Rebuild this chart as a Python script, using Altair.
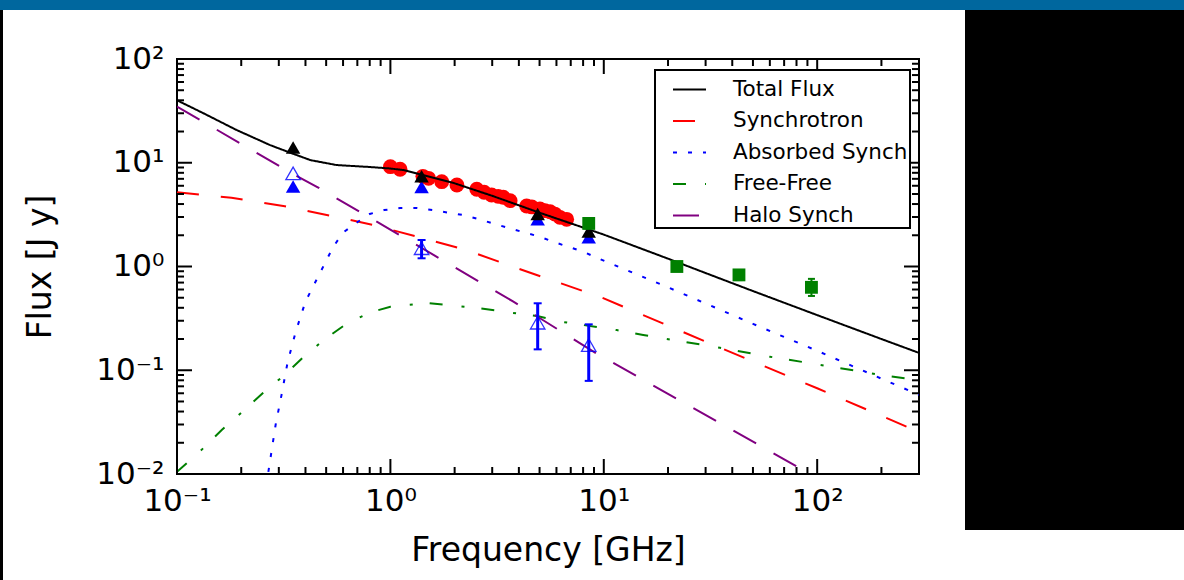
import altair as alt
import pandas as pd

FONT = "DejaVu Sans"

# ---------------- data ----------------
series_names = ["Total Flux", "Synchrotron", "Absorbed Synch", "Free-Free", "Halo Synch"]
series_colors = ["#000000", "#ff0000", "#0000ff", "#008000", "#800080"]
series_dashes = [[1, 0], [22, 22], [4, 11], [13, 19, 3, 17], [26, 20]]

total_freq = [0.1, 0.133, 0.19, 0.273, 0.339, 0.422, 0.56, 0.8, 1.0, 1.15, 1.42, 1.97, 3.0, 5.0, 10, 20, 30, 50, 100, 200, 300]
total_flux = [40, 30, 20.7, 14.8, 12.5, 10.6, 9.5, 9.1, 8.8, 8.5, 7.6, 6.4, 4.8, 3.3, 2.03, 1.19, 0.865, 0.58, 0.34, 0.2, 0.147]

synch_freq = [0.1, 0.18, 0.32, 0.56, 0.84, 1.38, 2.25, 4.0, 9.6, 15.3, 35, 100, 300]
synch_flux = [5.2, 4.6, 3.8, 3.0, 2.5, 1.9, 1.45, 0.95, 0.51, 0.34, 0.165, 0.067, 0.0254]

abs_freq = [0.268, 0.29, 0.31, 0.33, 0.36, 0.40, 0.54, 0.60, 0.69, 0.80, 0.935, 1.11, 1.33, 1.58, 1.87,
            2.2, 2.58, 3.0, 3.64, 4.2, 5.0, 5.8, 6.8, 8.0, 9.4, 20, 30, 50, 100, 200, 300]
abs_flux = [0.0105, 0.03, 0.06, 0.12, 0.235, 0.46, 1.55, 2.12, 2.62, 3.21, 3.5, 3.66, 3.66, 3.5, 3.3,
            3.13, 2.87, 2.61, 2.33, 2.14, 1.94, 1.73, 1.55, 1.39, 1.2, 0.63, 0.44, 0.28, 0.154, 0.083, 0.058]

ff_freq = [0.1, 0.13, 0.162, 0.2, 0.252, 0.315, 0.39, 0.488, 0.62, 0.8, 1.0, 1.5, 2.63, 3.56, 4.87, 6.3,
           11.5, 15.3, 21, 35, 60, 100, 200, 300]
ff_flux = [0.0105, 0.017, 0.0266, 0.039, 0.06, 0.088, 0.133, 0.196, 0.279, 0.36, 0.41, 0.445, 0.395, 0.362,
           0.333, 0.294, 0.244, 0.219, 0.196, 0.165, 0.135, 0.114, 0.09, 0.08]

halo_freq = [0.1, 0.35, 0.45, 1.11, 3.77, 9.2, 19.8, 92.7]
halo_flux = [34.7, 7.8, 5.9, 2.0, 0.458, 0.146, 0.06, 0.01]

red_freq = [1.00, 1.11, 1.42, 1.51, 1.74, 2.05, 2.54, 2.75, 2.98, 3.2, 3.38, 3.64, 4.35, 4.6, 5.02, 5.3, 5.60, 5.9, 6.23, 6.70]
red_flux = [9.16, 8.65, 7.4, 7.08, 6.57, 6.10, 5.55, 5.2, 4.89, 4.75, 4.65, 4.31, 3.83, 3.75, 3.58, 3.45, 3.37, 3.2, 2.98, 2.85]

tri_freq = [0.35, 1.4, 4.9, 8.5]
black_tri_flux = [14.0, 7.4, 3.2, 2.17]
blue_tri_flux = [5.9, 5.85, 2.85, 1.91]

open_freq = [0.35, 1.4, 4.9, 8.5]
open_flux = [7.9, 1.5, 0.287, 0.175]
open_err_freq = [1.4, 4.9, 8.5]
open_lo = [1.2, 0.159, 0.079]
open_hi = [1.8, 0.442, 0.277]

sq_freq = [8.5, 22, 43, 94]
sq_flux = [2.6, 1.0, 0.83, 0.63]
sq_err_freq = [22, 43, 94]
sq_lo = [0.95, 0.74, 0.52]
sq_hi = [1.06, 0.92, 0.76]

x_tick_vals = [0.1, 1, 10, 100]
x_tick_labels = ["10\u207b\u00b9", "10\u2070", "10\u00b9", "10\u00b2"]
y_tick_vals = [0.01, 0.1, 1, 10, 100]
y_tick_labels = ["10\u207b\u00b2", "10\u207b\u00b9", "10\u2070", "10\u00b9", "10\u00b2"]
x_minor = [0.2, 0.3, 0.4, 0.5, 0.6, 0.7, 0.8, 0.9, 2, 3, 4, 5, 6, 7, 8, 9,
           20, 30, 40, 50, 60, 70, 80, 90, 200]
y_minor = [0.02, 0.03, 0.04, 0.05, 0.06, 0.07, 0.08, 0.09, 0.2, 0.3, 0.4, 0.5, 0.6, 0.7, 0.8, 0.9,
           2, 3, 4, 5, 6, 7, 8, 9, 20, 30, 40, 50, 60, 70, 80, 90]

# ---------------- layout ----------------
W, H = 742, 415
PAD_L, PAD_T = 177, 59
BLACK = "#000000"
BLUE = "#0000ff"
GREEN = "#008000"


def label_expr(vals, labels):
    s = "''"
    for v, l in reversed(list(zip(vals, labels))):
        s = f"abs(datum.value - {v}) < {v * 0.01} ? '{l}' : ({s})"
    return s


xscale = alt.Scale(type="log", domain=[0.1, 300])
yscale = alt.Scale(type="log", domain=[0.01, 100])

xaxis = alt.Axis(values=x_tick_vals, labelExpr=label_expr(x_tick_vals, x_tick_labels), ticks=False,
                 domain=False, grid=False, labelFont=FONT, labelFontSize=31, labelColor=BLACK,
                 labelPadding=12, labelFlush=False, labelOverlap=False, titleFont=FONT,
                 titleFontSize=33, titleFontWeight="normal", titleColor=BLACK, titlePadding=18)
yaxis = alt.Axis(values=y_tick_vals, labelExpr=label_expr(y_tick_vals, y_tick_labels), ticks=False,
                 domain=False, grid=False, labelFont=FONT, labelFontSize=31, labelColor=BLACK,
                 labelPadding=13, labelFlush=False, labelOverlap=False, titleFont=FONT,
                 titleFontSize=33, titleFontWeight="normal", titleColor=BLACK, titlePadding=38)


def X(field="f"):
    return alt.X(f"{field}:Q", scale=xscale, axis=xaxis, title="Frequency [GHz]")


def Y(field="v"):
    return alt.Y(f"{field}:Q", scale=yscale, axis=yaxis, title="Flux [J y]")


rows = []
for name, fs, vs in [("Total Flux", total_freq, total_flux), ("Synchrotron", synch_freq, synch_flux),
                     ("Absorbed Synch", abs_freq, abs_flux), ("Free-Free", ff_freq, ff_flux),
                     ("Halo Synch", halo_freq, halo_flux)]:
    for f, v in zip(fs, vs):
        rows.append({"series": name, "f": f, "v": v})
curve_df = pd.DataFrame(rows)

leg = alt.Legend(title=None, orient="none", legendX=478, legendY=11, strokeColor=BLACK, fillColor="white",
                 padding=2, symbolType="stroke", symbolSize=1089, symbolStrokeWidth=2, symbolOffset=15,
                 labelOffset=26, labelFont=FONT, labelFontSize=21.5, labelColor=BLACK, rowPadding=3.5,
                 labelLimit=400)

curves = alt.Chart(curve_df).mark_line(strokeWidth=2, clip=True).encode(
    x=X(), y=Y(),
    color=alt.Color("series:N", scale=alt.Scale(domain=series_names, range=series_colors), legend=leg),
    strokeDash=alt.StrokeDash("series:N", scale=alt.Scale(domain=series_names, range=series_dashes), legend=leg),
)

red_pts = alt.Chart(pd.DataFrame({"f": red_freq, "v": red_flux})).mark_circle(
    size=220, color="#ff0000", opacity=1).encode(x=X(), y=Y())

tri_df_black = pd.DataFrame({"f": tri_freq, "v": black_tri_flux})
tri_df_blue = pd.DataFrame({"f": tri_freq, "v": blue_tri_flux})
black_tri = alt.Chart(tri_df_black).mark_point(shape="triangle-up", filled=True, size=210, color=BLACK,
                                               opacity=1).encode(x=X(), y=Y())
blue_tri = alt.Chart(tri_df_blue).mark_point(shape="triangle-up", filled=True, size=210, color=BLUE,
                                             opacity=1).encode(x=X(), y=Y())

open_df = pd.DataFrame({"f": open_freq, "v": open_flux})
open_err_df = pd.DataFrame({"f": open_err_freq, "lo": open_lo, "hi": open_hi})
open_bars = alt.Chart(open_err_df).mark_rule(color=BLUE, strokeWidth=3).encode(x=X(), y=Y("lo"), y2="hi:Q")
open_cap_lo = alt.Chart(open_err_df).mark_tick(orient="horizontal", size=8, thickness=2, color=BLUE,
                                               opacity=1).encode(x=X(), y=Y("lo"))
open_cap_hi = alt.Chart(open_err_df).mark_tick(orient="horizontal", size=8, thickness=2, color=BLUE,
                                               opacity=1).encode(x=X(), y=Y("hi"))
open_tri = alt.Chart(open_df).mark_point(shape="triangle-up", filled=False, size=210, color=BLUE,
                                         strokeWidth=1.3, opacity=0.8).encode(x=X(), y=Y())

sq_df = pd.DataFrame({"f": sq_freq, "v": sq_flux})
sq_err_df = pd.DataFrame({"f": sq_err_freq, "lo": sq_lo, "hi": sq_hi})
sq_bars = alt.Chart(sq_err_df).mark_rule(color=GREEN, strokeWidth=2).encode(x=X(), y=Y("lo"), y2="hi:Q")
sq_cap_lo = alt.Chart(sq_err_df).mark_tick(orient="horizontal", size=7, thickness=2, color=GREEN,
                                           opacity=1).encode(x=X(), y=Y("lo"))
sq_cap_hi = alt.Chart(sq_err_df).mark_tick(orient="horizontal", size=7, thickness=2, color=GREEN,
                                           opacity=1).encode(x=X(), y=Y("hi"))
squares = alt.Chart(sq_df).mark_point(shape="square", filled=True, size=165, color=GREEN,
                                      opacity=1).encode(x=X(), y=Y())

# inner ticks on all four sides
xt_major = pd.DataFrame({"f": x_tick_vals})
xt_minor = pd.DataFrame({"f": x_minor})
yt_major = pd.DataFrame({"v": y_tick_vals})
yt_minor = pd.DataFrame({"v": y_minor})


def xticks(df, length):
    bottom = alt.Chart(df).mark_rule(color=BLACK, strokeWidth=2).encode(
        x=X(), y=alt.value(H), y2=alt.value(H - length))
    top = alt.Chart(df).mark_rule(color=BLACK, strokeWidth=2).encode(
        x=X(), y=alt.value(0), y2=alt.value(length))
    return [bottom, top]


def yticks(df, length):
    left = alt.Chart(df).mark_rule(color=BLACK, strokeWidth=2).encode(
        y=Y(), x=alt.value(0), x2=alt.value(length))
    right = alt.Chart(df).mark_rule(color=BLACK, strokeWidth=2).encode(
        y=Y(), x=alt.value(W), x2=alt.value(W - length))
    return [left, right]


ticks = xticks(xt_major, 15) + xticks(xt_minor, 7) + yticks(yt_major, 15) + yticks(yt_minor, 7)

# page decoration (blue header bar, black panel on the right, thin black strip at left)
one = alt.Data(values=[{}])
blue_bar = alt.Chart(one).mark_rect(color="#00679e", clip=False).encode(
    x=alt.value(-PAD_L), x2=alt.value(1184 - PAD_L), y=alt.value(-PAD_T), y2=alt.value(10 - PAD_T))
black_panel = alt.Chart(one).mark_rect(color=BLACK, clip=False).encode(
    x=alt.value(965 - PAD_L), x2=alt.value(1184 - PAD_L), y=alt.value(10 - PAD_T), y2=alt.value(530 - PAD_T))
left_strip = alt.Chart(one).mark_rect(color=BLACK, clip=False).encode(
    x=alt.value(-PAD_L), x2=alt.value(3 - PAD_L), y=alt.value(10 - PAD_T), y2=alt.value(580 - PAD_T))

chart = alt.layer(
    blue_bar, black_panel, left_strip,
    red_pts, curves,
    open_bars, open_cap_lo, open_cap_hi, sq_bars, sq_cap_lo, sq_cap_hi,
    open_tri, blue_tri, black_tri, squares,
    *ticks,
).properties(
    width=W, height=H,
    autosize=alt.AutoSizeParams(type="none"),
    padding={"left": PAD_L, "top": PAD_T, "right": 1184 - PAD_L - W, "bottom": 580 - PAD_T - H},
    background="white",
).configure_view(
    stroke=BLACK, strokeWidth=2,
).configure_legend(
    strokeWidth=2,
)

chart.save("out.html", embed_options={"renderer": "svg", "actions": False})
